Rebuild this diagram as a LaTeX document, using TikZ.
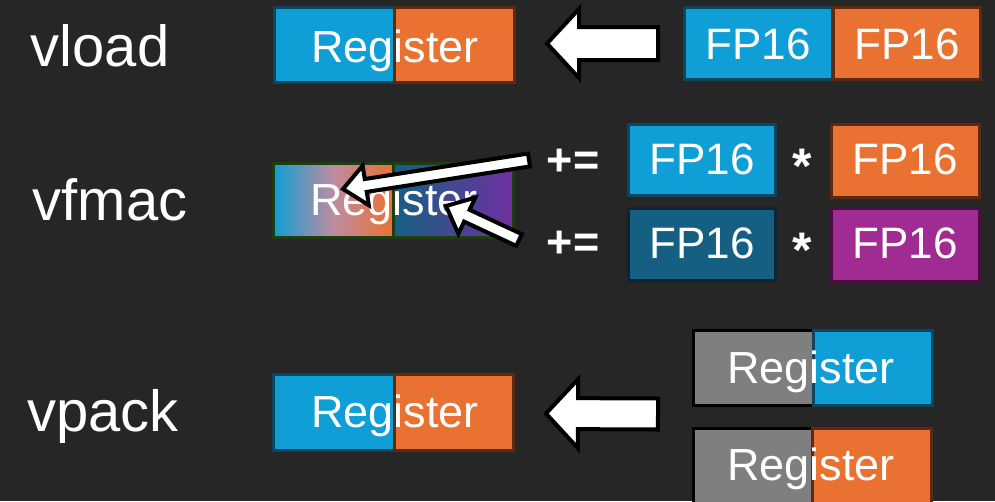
\documentclass[tikz,border=0pt]{standalone}
\usepackage{fontspec}
\setmainfont{Liberation Sans}
\usetikzlibrary{calc}
\definecolor{bg}{HTML}{262626}
\definecolor{cblue}{HTML}{0F9ED5}
\definecolor{cblueb}{HTML}{0B4560}
\definecolor{corange}{HTML}{E97132}
\definecolor{corangeb}{HTML}{5C2A10}
\definecolor{cdblue}{HTML}{156082}
\definecolor{cdblueb}{HTML}{0A2636}
\definecolor{cpurple}{HTML}{A02B93}
\definecolor{cpurpleb}{HTML}{4A0F42}
\definecolor{cgray}{HTML}{7F7F7F}
\definecolor{cgreenb}{HTML}{1E3D12}
\definecolor{cviolet}{HTML}{7030A0}
\tikzset{
  boxline/.style={line width=3pt},
  bluebox/.style={boxline, fill=cblue, draw=cblueb},
  orangebox/.style={boxline, fill=corange, draw=corangeb},
  dbluebox/.style={boxline, fill=cdblue, draw=cdblueb},
  purplebox/.style={boxline, fill=cpurple, draw=cpurpleb},
  graybox/.style={boxline, fill=cgray, draw=black},
  regtext/.style={text=white, font=\fontsize{45}{50}\selectfont, anchor=base, inner sep=0pt},
  fptext/.style={text=white, font=\fontsize{44}{50}\selectfont, anchor=base, inner sep=0pt},
  lbltext/.style={text=white, font=\fontsize{58}{62}\selectfont, anchor=base, inner sep=0pt},
  optext/.style={text=white, font=\fontsize{45}{50}\selectfont\bfseries, anchor=base, inner sep=0pt},
  startext/.style={text=white, font=\fontsize{50}{54}\selectfont\bfseries, anchor=base, inner sep=0pt},
  blockarrow/.style={fill=white, draw=black, line width=4pt, line join=miter},
}
% #1 tip, #2 tail, #3 half shaft, #4 half head, #5 head length
\newcommand\blkarrow[5]{%
  \coordinate (hb) at ($(#1)!#5!(#2)$);
  \draw[blockarrow] (#1) -- ($(hb)!#4!90:(#1)$) -- ($(hb)!#3!90:(#1)$)
    -- ($(#2)!#3!90:(#1)$) -- ($(#2)!#3!-90:(#1)$) -- ($(hb)!#3!-90:(#1)$)
    -- ($(hb)!#4!-90:(#1)$) -- cycle;
}
\begin{document}
\begin{tikzpicture}[x=1pt,y=-1pt]
\fill[bg] (0,0) rectangle (995,501);
\useasboundingbox (0,0) rectangle (995,501);
\clip (0,0) rectangle (995,501);

% ---------- labels
\node[lbltext] (lvload) at (100,66) {vload};
\node[lbltext] (lvfmac) at (110,220) {vfmac};
\node[lbltext] (lvpack) at (103,431) {vpack};

% ---------- vload row
\draw[bluebox]   (274.5,7.5) rectangle (396,82.5);
\draw[orangebox] (394.5,7.5) rectangle (514.5,82.5);
\node[regtext] (r1) at (395,62) {Register};

\draw[bluebox]   (684.5,7.5) rectangle (832,79.5);
\draw[orangebox] (833.5,7.5) rectangle (980.5,79.5);
\node[fptext] (f1) at (758,59) {FP16};
\node[fptext] (f2) at (907,59) {FP16};

\coordinate (a1tip) at (547,43.5);
\coordinate (a1tail) at (658,43.5);
\blkarrow{a1tip}{a1tail}{16.5pt}{34.5pt}{32pt}

% ---------- vfmac row
\shade[left color=cblue, right color=corange, middle color={rgb,255:red,190;green,140;blue,160}] (273.5,163.5) rectangle (393,237.5);
\shade[left color=cdblue, right color=cviolet] (393,163.5) rectangle (513.5,237.5);
\draw[boxline, draw=cgreenb] (273.5,163.5) rectangle (393,237.5);
\draw[boxline, draw=cgreenb] (393,163.5) rectangle (513.5,237.5);
\node[regtext] (r2) at (394,215) {Register};

\node[optext] (pe1) at (573,175.5) {+=};
\node[optext] (pe2) at (573,257.5) {+=};

\draw[bluebox]   (628.5,124.5) rectangle (775.5,195.5);
\draw[orangebox] (831.5,124.5) rectangle (979.5,197.5);
\draw[dbluebox]  (628.5,208.5) rectangle (775.5,280.5);
\draw[purplebox] (831.5,208.5) rectangle (979.5,281.5);
\node[fptext] (f3) at (702,174) {FP16};
\node[fptext] (f4) at (905,174) {FP16};
\node[fptext] (f5) at (702,258) {FP16};
\node[fptext] (f6) at (905,258) {FP16};
\node[startext] (s1) at (802,183) {*};
\node[startext] (s2) at (802,267) {*};

\coordinate (a2tip) at (343,189);
\coordinate (a2tail) at (529,160);
\blkarrow{a2tip}{a2tail}{6.5pt}{20pt}{23pt}
\coordinate (a3tip) at (446,206);
\coordinate (a3tail) at (519,240);
\blkarrow{a3tip}{a3tail}{6.5pt}{20pt}{23pt}

% ---------- vpack row
\draw[bluebox]   (273.5,374.5) rectangle (396,450.5);
\draw[orangebox] (394.5,374.5) rectangle (513.5,450.5);
\node[regtext] (r3) at (395,427) {Register};

\draw[graybox]   (693.5,330.5) rectangle (813,405.5);
\draw[bluebox]   (813.5,330.5) rectangle (932.5,405.5);
\node[regtext] (r4) at (811,383) {Register};

\draw[graybox]   (693.5,428.5) rectangle (812,506);
\draw[orangebox] (812,428.5) rectangle (931.5,506);
\node[regtext] (r5) at (811,480) {Register};

\coordinate (a4tip) at (546,413.5);
\coordinate (a4tail) at (658,414);
\blkarrow{a4tip}{a4tail}{15.5pt}{34.5pt}{32pt}
\end{tikzpicture}
\end{document}
